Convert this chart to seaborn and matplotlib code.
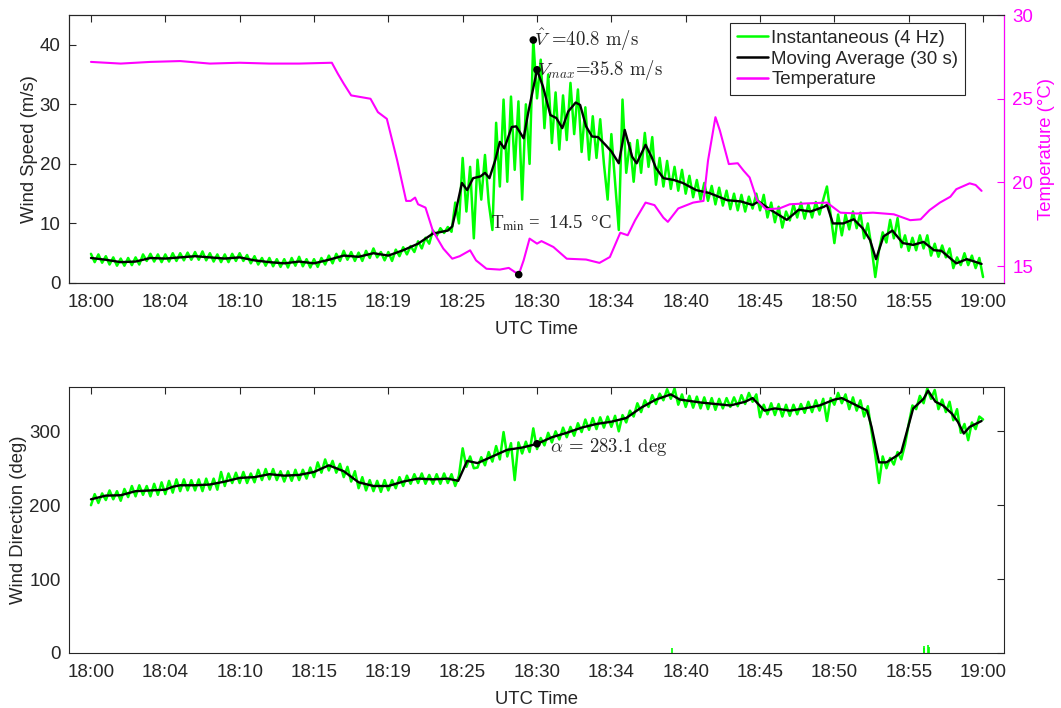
import matplotlib
matplotlib.use("Agg")
import matplotlib.pyplot as plt
import numpy as np
import seaborn as sns

# time axis in minutes after 18:00
tick_minutes = [0, 5, 10, 15, 20, 25, 30, 35, 40, 45, 50, 55, 60]
tick_labels = ["18:00", "18:04", "18:10", "18:15", "18:19", "18:25", "18:30",
               "18:34", "18:40", "18:45", "18:50", "18:55", "19:00"]

# instantaneous wind speed, read every 15 s (m/s)
speed_inst = [
    4.9, 3.5, 4.8, 3.4,  4.5, 3.1, 4.3, 2.9,  4.1, 2.9, 4.2, 3.0,  4.3, 3.1, 4.8, 3.7,
    4.9, 3.6, 4.8, 3.5,  4.8, 3.6, 5.0, 3.7,  5.0, 3.8, 5.1, 3.9,  5.2, 3.9, 5.3, 3.8,
    5.0, 3.6, 4.8, 3.5,  4.8, 3.5, 4.9, 3.7,  5.0, 3.7, 4.7, 3.3,  4.5, 3.1, 4.2, 2.9,
    4.2, 2.8, 4.0, 2.7,  4.0, 2.6, 4.2, 2.9,  4.4, 2.8, 4.0, 2.6,  4.0, 2.7, 4.2, 3.1,
    4.6, 3.3, 4.9, 3.7,  5.4, 3.9, 5.2, 3.7,  5.1, 3.7, 5.4, 4.2,  5.8, 4.3, 5.2, 3.8,
    5.2, 3.7, 5.6, 4.5,  6.0, 4.8, 6.2, 5.2,  7.0, 5.8, 7.6, 6.6,  8.8, 7.9, 9.2, 8.4,
    9.4, 8.6, 13.5, 10.0,  21.0, 12.0, 19.5, 7.5,  20.7, 14.0, 21.5, 13.5,  8.9, 26.9, 16.2, 30.8,
    17.0, 31.3, 19.0, 30.5,  14.0, 30.0, 20.0, 40.8,  31.0, 37.5, 26.0, 35.0,  23.5, 32.0, 22.4, 31.5,
    24.0, 33.6, 25.0, 32.5,  22.0, 29.5, 20.7, 28.0,  21.0, 27.5, 20.0, 14.0,  25.0, 17.0, 8.9, 30.8,
    18.5, 23.5, 17.0, 24.0,  18.5, 25.2, 19.5, 24.5,  16.5, 21.0, 16.2, 20.5,  15.8, 19.5, 15.5, 19.0,
    15.0, 18.0, 14.4, 17.3,  14.0, 16.8, 13.8, 16.3,  13.2, 16.0, 13.0, 15.5,  12.4, 15.0, 12.2, 14.8,
    12.0, 14.5, 12.5, 15.0,  12.2, 14.8, 11.0, 13.5,  10.2, 12.8, 9.3, 12.0,  10.5, 13.2, 11.0, 13.5,
    10.8, 13.2, 11.0, 13.6,  11.5, 14.0, 16.2, 11.5,  6.7, 11.5, 8.0, 11.5,  9.0, 12.0, 9.2, 11.8,
    7.5, 10.0, 6.0, 1.0,  5.5, 8.5, 6.8, 10.6,  7.5, 10.9, 6.0, 8.0,  5.4, 7.6, 5.5, 8.0,
    5.8, 8.0, 4.6, 6.6,  4.4, 6.3, 4.3, 5.8,  2.5, 4.3, 3.0, 5.0,  3.0, 4.6, 2.5, 4.2,
    1.0,
]

# 30 s moving average of wind speed
avg_t = [0, 1, 2, 3, 4, 5, 6, 7, 8, 9, 10, 11, 12, 13, 14, 15, 16, 17, 18, 19, 20, 21, 22,
         23, 24, 24.3, 24.6, 24.95, 25.3, 25.7, 26.2, 26.5, 26.8, 27.2, 27.5, 27.8, 28.3, 28.6,
         29.1, 29.4, 30.0, 30.4, 30.9, 31.3, 31.7, 32.1, 32.6, 32.9, 33.3, 33.7, 34.1, 34.6,
         35.0, 35.5, 35.9, 36.4, 36.7, 37.3, 37.7, 38.0, 38.5, 39.2, 39.8, 40.7, 41.6, 42.8,
         43.7, 44.5, 44.9, 45.7, 46.8, 47.6, 48.4, 49.3, 49.5, 49.9, 50.6, 51.3, 51.9, 52.4,
         52.8, 53.3, 53.9, 54.6, 55.3, 56.0, 56.7, 57.2, 58.2, 58.9, 59.3, 59.9]
avg_v = [4.2, 3.9, 3.5, 3.6, 4.2, 4.1, 4.3, 4.5, 4.3, 4.1, 4.3, 3.8, 3.5, 3.3, 3.6, 3.3, 3.9,
         4.6, 4.4, 5.0, 4.6, 5.5, 6.6, 8.3, 8.8, 9.5, 12.8, 16.8, 15.6, 17.6, 17.9, 18.5, 17.6,
         20.7, 23.7, 22.6, 26.2, 26.3, 24.3, 28.5, 35.8, 33.0, 28.2, 27.7, 26.0, 28.8, 30.3,
         29.9, 26.3, 24.6, 24.5, 23.2, 22.1, 20.1, 25.7, 21.2, 20.1, 23.2, 21.2, 19.3, 17.6,
         17.3, 16.8, 15.6, 15.1, 13.9, 13.7, 13.1, 13.7, 12.3, 10.6, 12.3, 12.0, 12.8, 13.1,
         10.0, 10.0, 10.7, 9.2, 7.2, 4.0, 7.8, 8.8, 6.7, 6.4, 6.9, 5.5, 5.4, 3.3, 4.0, 3.7, 3.2]

# air temperature (deg C)
temp_t = [0, 2, 4, 6, 8, 10, 12, 14, 16.2, 16.6, 17.0, 17.5, 18.8, 19.3, 19.9, 20.6, 21.2,
          21.5, 21.8, 22.0, 22.5, 23.0, 23.7, 24.3, 24.8, 25.5, 25.9, 26.6, 27.5, 28.1, 28.77,
          29.1, 29.5, 30.0, 30.3, 31.1, 32.0, 33.3, 34.2, 34.9, 35.6, 36.1, 36.6, 37.3, 37.9,
          38.5, 38.8, 39.5, 40.5, 41.2, 41.5, 42.0, 42.3, 42.9, 43.5, 43.9, 44.3, 44.8, 45.4,
          46.3, 47.0, 48.1, 49.5, 50.4, 51.5, 52.6, 54.0, 55.1, 55.8, 56.4, 57.1, 57.8, 58.2,
          59.1, 59.5, 59.9]
temp_c = [27.2, 27.1, 27.2, 27.25, 27.1, 27.15, 27.1, 27.1, 27.15, 26.5, 25.9, 25.2, 25.0,
          24.2, 23.8, 21.3, 18.9, 18.9, 19.1, 18.7, 18.5, 17.1, 16.05, 15.45, 15.6, 15.95,
          15.35, 14.85, 14.8, 14.9, 14.5, 15.35, 16.65, 16.35, 16.5, 16.15, 15.45, 15.4, 15.2,
          15.55, 17.0, 16.85, 17.75, 18.8, 18.65, 17.9, 17.65, 18.45, 18.8, 18.9, 21.3, 23.9,
          23.1, 21.1, 21.15, 20.7, 20.3, 18.95, 18.4, 18.45, 18.7, 18.75, 18.8, 18.2, 18.15,
          18.2, 18.1, 17.75, 17.8, 18.35, 18.8, 19.15, 19.6, 19.95, 19.85, 19.5]

# instantaneous wind direction, read every 15 s (deg)
dir_inst = [
    200, 215, 203, 216,  207, 220, 208, 219,  206, 222, 211, 226,  212, 227, 214, 226,
    212, 229, 214, 231,  215, 233, 217, 235,  219, 235, 220, 234,  220, 235, 219, 236,
    221, 236, 221, 245,  226, 243, 230, 244,  230, 245, 230, 243,  231, 248, 234, 249,
    235, 249, 234, 246,  232, 246, 233, 248,  234, 248, 236, 251,  238, 258, 244, 262,
    247, 260, 244, 256,  238, 252, 232, 246,  223, 238, 220, 234,  219, 233, 218, 234,
    220, 234, 223, 238,  226, 240, 229, 242,  230, 243, 229, 241,  229, 242, 229, 243,
    230, 242, 226, 240,  277, 252, 266, 250,  251, 265, 254, 272,  259, 280, 262, 299,
    266, 284, 234, 285,  270, 286, 272, 304,  276, 291, 281, 298,  285, 300, 289, 305,
    292, 306, 294, 311,  299, 316, 302, 318,  303, 319, 305, 320,  306, 321, 300, 322,
    312, 328, 320, 338,  326, 342, 333, 349,  337, 351, 342, 357,  344, 358, 336, 350,
    333, 348, 332, 347,  331, 346, 330, 345,  329, 344, 331, 345,  333, 346, 334, 349,
    337, 352, 340, 350,  319, 336, 323, 338,  322, 337, 320, 336,  321, 336, 323, 337,
    325, 340, 326, 342,  328, 344, 314, 345,  336, 352, 338, 350,  330, 346, 328, 342,
    320, 334, 300, 268,  230, 266, 250, 264,  255, 272, 262, 282,  310, 335, 330, 348,
    338, 358, 344, 356,  330, 343, 326, 340,  315, 330, 298, 310,  288, 312, 303, 320,
    316,
]

# readings that wrapped past 360 deg
wrap_t = [39.1, 56.0, 56.05, 56.3, 56.35]
wrap_d = [1, 4, 2, 5, 3]

# 30 s moving average of wind direction
dir_avg_t = [0, 1, 2, 3, 4, 5, 5.5, 6, 7, 8, 9, 10, 11, 12, 13, 14, 15, 16, 17, 18, 19, 20,
             21, 22, 23, 24, 24.7, 25.3, 26, 27, 28, 29, 30, 31, 32, 33, 34, 35, 36, 37, 38,
             39, 39.6, 41, 42, 43, 44, 44.5, 45.3, 46, 47, 48, 49, 50, 50.5, 51.3, 52.2, 52.5,
             53, 53.5, 54.2, 54.5, 55.3, 56, 56.3, 56.8, 57.3, 57.9, 58.3, 58.7, 59.1, 59.9]
dir_avg = [208, 213, 213.5, 219, 220, 221, 225, 227, 227, 228, 232, 237, 238, 242, 240, 241,
           245, 254, 246, 231, 226, 226, 232, 236, 235, 236, 233, 260, 257, 266, 275, 278, 283,
           292, 298, 305, 310, 313, 318, 332, 343, 350, 343, 339, 337, 335, 340, 345, 328, 331,
           328, 331, 335, 343, 345, 337, 328, 306, 258, 258, 267, 272, 331, 344, 355, 340, 335,
           324, 313, 297, 306, 314]

# annotated points
peak_t, peak_v = 29.75, 40.8
vmax_t, vmax_v = 30.0, 35.8
tmin_t, tmin_c = 28.77, 14.5
alpha_t, alpha_d = 30.0, 283.1

GREEN = "#00ff00"
MAGENTA = "#ff00ff"
GREY = "#262626"
FS = 13.5

sns.set_style("white")
plt.rcParams["font.family"] = ["Liberation Sans", "DejaVu Sans"]
plt.rcParams["axes.edgecolor"] = GREY
plt.rcParams["axes.linewidth"] = 0.8
plt.rcParams["xtick.color"] = GREY
plt.rcParams["ytick.color"] = GREY

t_inst = np.arange(len(speed_inst)) * 0.25

fig = plt.figure(figsize=(10.61, 7.08), dpi=100)
ax1 = fig.add_axes([0.065, 0.6003, 0.8813, 0.3785])
ax3 = fig.add_axes([0.065, 0.0777, 0.8813, 0.3757])

# ---- top panel: wind speed + temperature
sns.lineplot(x=t_inst, y=speed_inst, ax=ax1, color=GREEN, linewidth=1.8,
             label="Instantaneous (4 Hz)")
sns.lineplot(x=avg_t, y=avg_v, ax=ax1, color="black", linewidth=1.7,
             label="Moving Average (30 s)")
sns.scatterplot(x=[peak_t, vmax_t], y=[peak_v, vmax_v], ax=ax1, color="black", s=30,
                zorder=5, edgecolor="none")
ax1.text(peak_t + 0.05, peak_v, r"$\hat{V}$ =40.8 m/s", va="center", ha="left",
         fontsize=FS, family=["cmr10", "DejaVu Serif"], math_fontfamily="cm", zorder=6)
ax1.text(vmax_t, vmax_v, r"$V_{max}$=35.8 m/s", va="center", ha="left",
         fontsize=FS, family=["cmr10", "DejaVu Serif"], math_fontfamily="cm", zorder=6)

ax1.set_xlim(-1.48, 61.41)
ax1.set_ylim(0, 45)
ax1.set_yticks([0, 10, 20, 30, 40])
ax1.set_xticks(tick_minutes)
ax1.set_xticklabels(tick_labels)
ax1.set_xlabel("UTC Time", fontsize=13.3, color=GREY, labelpad=7)
ax1.set_ylabel("Wind Speed (m/s)", fontsize=13.3, color=GREY, labelpad=1.5)
ax1.tick_params(axis="x", direction="in", length=5, labelsize=FS, top=True, pad=8)
ax1.tick_params(axis="y", direction="in", length=5, labelsize=FS, pad=6)

ax2 = ax1.twinx()
sns.lineplot(x=temp_t, y=temp_c, ax=ax2, color=MAGENTA, linewidth=1.5, label="Temperature")
sns.scatterplot(x=[tmin_t], y=[tmin_c], ax=ax2, color="black", s=30, zorder=5,
                edgecolor="none")
ax2.text(26.9, 17.6, "T$_{\\mathrm{min}}$ =  14.5  °C", va="center", ha="left",
         fontsize=FS, family=["Liberation Serif", "DejaVu Serif"], math_fontfamily="stix")
ax2.set_ylim(14, 30)
ax2.set_yticks([15, 20, 25, 30])
ax2.set_ylabel("Temperature (°C)", fontsize=13.3, color=MAGENTA, labelpad=3)
ax2.tick_params(axis="y", direction="in", length=5, labelsize=FS, colors=MAGENTA, pad=6)
ax2.spines["right"].set_color(MAGENTA)

h1, l1 = ax1.get_legend_handles_labels()
h2, l2 = ax2.get_legend_handles_labels()
if ax1.get_legend() is not None:
    ax1.get_legend().remove()
leg = ax2.legend(h1 + h2, l1 + l2, loc="upper right", bbox_to_anchor=(0.958, 0.97),
                 borderaxespad=0, fontsize=FS, handlelength=1.7, handletextpad=0.15,
                 labelspacing=0.2, borderpad=0.35, fancybox=False, framealpha=1,
                 edgecolor=GREY)
leg.get_frame().set_linewidth(0.8)
for ln in leg.get_lines():
    ln.set_linewidth(1.8)

# ---- bottom panel: wind direction
sns.lineplot(x=t_inst, y=dir_inst, ax=ax3, color=GREEN, linewidth=1.8)
sns.scatterplot(x=wrap_t, y=wrap_d, ax=ax3, color=GREEN, marker="|", s=30, linewidth=1.2)
sns.lineplot(x=dir_avg_t, y=dir_avg, ax=ax3, color="black", linewidth=1.7)
sns.scatterplot(x=[alpha_t], y=[alpha_d], ax=ax3, color="black", s=30, zorder=5,
                edgecolor="none")
ax3.annotate(r"$\alpha$ = 283.1 deg", xy=(alpha_t, alpha_d), xytext=(9, -2),
             textcoords="offset points", va="center", ha="left", fontsize=FS,
             family=["cmr10", "DejaVu Serif"], math_fontfamily="cm")
ax3.set_xlim(-1.48, 61.41)
ax3.set_ylim(0, 360)
ax3.set_yticks([0, 100, 200, 300])
ax3.set_xticks(tick_minutes)
ax3.set_xticklabels(tick_labels)
ax3.set_xlabel("UTC Time", fontsize=13.3, color=GREY, labelpad=7)
ax3.set_ylabel("Wind Direction (deg)", fontsize=13.3, color=GREY, labelpad=1.5)
ax3.tick_params(axis="x", direction="in", length=5, labelsize=FS, top=True, pad=8)
ax3.tick_params(axis="y", direction="in", length=5, labelsize=FS, right=True, pad=6)

fig.savefig("out.png", dpi=100)
